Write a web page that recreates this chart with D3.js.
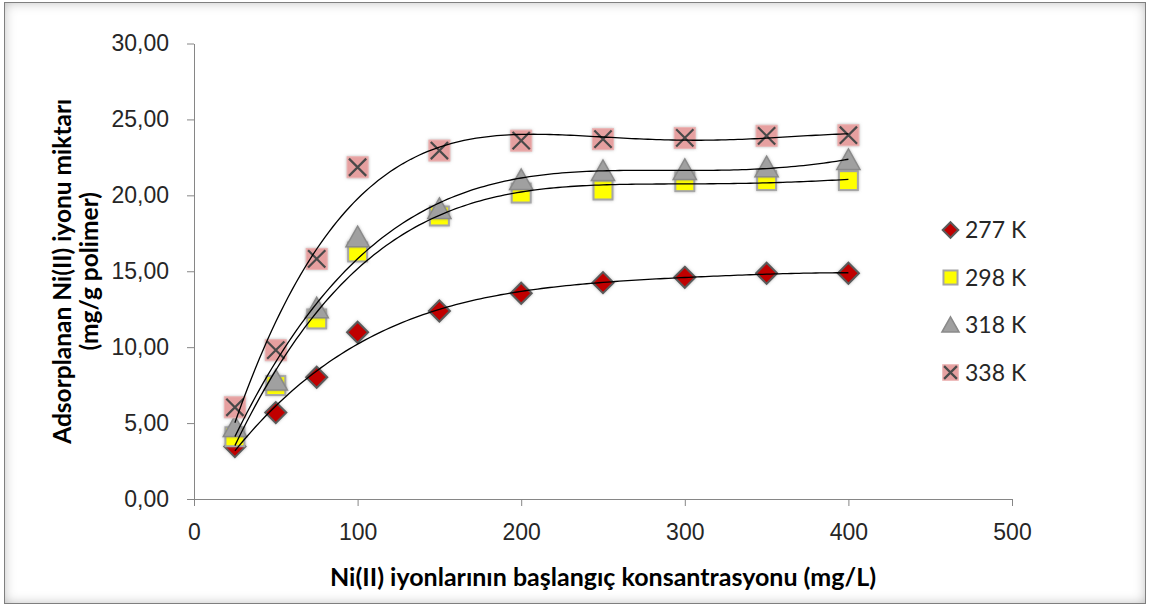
<!DOCTYPE html>
<html>
<head>
<meta charset="utf-8">
<script src="https://cdn.jsdelivr.net/npm/d3@7"></script>
<style>
  body { margin: 0; background: #fff; }
  svg { display: block; font-family: Lato, "Open Sans", sans-serif; }
</style>
</head>
<body>
<svg id="chart" width="1150" height="608"></svg>
<script>
// veriler
const concentrations = [25, 50, 75, 100, 150, 200, 250, 300, 350, 400];
const q277 = [3.45, 5.69, 8.02, 10.98, 12.38, 13.55, 14.25, 14.60, 14.87, 14.87];
const q298 = [4.10, 7.47, 11.86, 16.27, 18.64, 20.15, 20.35, 20.90, 20.97, 20.97];
const q318 = [4.74, 7.80, 12.56, 17.24, 19.10, 21.00, 21.60, 21.67, 21.85, 22.33];
const q338 = [6.04, 9.80, 15.81, 21.85, 22.95, 23.60, 23.70, 23.78, 23.92, 23.96];
const seriesNames = ['277 K', '298 K', '318 K', '338 K'];
const xTicks = [0, 100, 200, 300, 400, 500];
const yTicks = [0, 5, 10, 15, 20, 25, 30];

const trendOrder = 4; // polinom egilim cizgisi derecesi

const svg = d3.select('#chart');
const x = d3.scaleLinear().domain([0, 500]).range([194, 1012]);
const y = d3.scaleLinear().domain([0, 30]).range([499, 43.5]);

const defs = svg.append('defs');

// cerceve ic golgesi
const inner = defs.append('filter').attr('id', 'inner')
    .attr('x', '-3%').attr('y', '-5%').attr('width', '106%').attr('height', '110%');
inner.append('feFlood').attr('flood-color', '#000').attr('flood-opacity', 0.55).attr('result', 'f');
inner.append('feComposite').attr('in', 'f').attr('in2', 'SourceAlpha').attr('operator', 'out').attr('result', 'o');
inner.append('feGaussianBlur').attr('in', 'o').attr('stdDeviation', 6).attr('result', 'b');
inner.append('feComposite').attr('in', 'b').attr('in2', 'SourceAlpha').attr('operator', 'in').attr('result', 's');
const im = inner.append('feMerge');
im.append('feMergeNode').attr('in', 'SourceGraphic');
im.append('feMergeNode').attr('in', 's');

// isaretci halesi
const glow = defs.append('filter').attr('id', 'glow')
    .attr('x', '-50%').attr('y', '-50%').attr('width', '200%').attr('height', '200%');
glow.append('feGaussianBlur').attr('in', 'SourceAlpha').attr('stdDeviation', 1.4).attr('result', 'b');
glow.append('feFlood').attr('flood-color', '#808080').attr('flood-opacity', 0.55).attr('result', 'c');
glow.append('feComposite').attr('in', 'c').attr('in2', 'b').attr('operator', 'in').attr('result', 'g');
const gm = glow.append('feMerge');
gm.append('feMergeNode').attr('in', 'g');
gm.append('feMergeNode').attr('in', 'SourceGraphic');

svg.append('rect')
    .attr('x', 4.5).attr('y', 2.5).attr('width', 1141).attr('height', 601)
    .attr('fill', '#fff').attr('filter', 'url(#inner)');
svg.append('rect')
    .attr('x', 4.5).attr('y', 2.5).attr('width', 1141).attr('height', 601)
    .attr('fill', 'none').attr('stroke', '#7f7f7f').attr('stroke-width', 1);

const fmt = d3.formatLocale({ decimal: ',', thousands: '.', grouping: [3], currency: ['', ''] }).format('.2f');

// eksenler
const yAxis = svg.append('g')
    .attr('transform', 'translate(' + x(0) + ',0)')
    .call(d3.axisLeft(y).tickValues(yTicks).tickSize(7).tickSizeOuter(0).tickPadding(18).tickFormat(fmt));
const xAxis = svg.append('g')
    .attr('transform', 'translate(0,' + y(0) + ')')
    .call(d3.axisBottom(x).tickValues(xTicks).tickSize(7).tickSizeOuter(0).tickPadding(18));
[xAxis, yAxis].forEach(a => {
    a.selectAll('path, line').attr('stroke', '#868686');
    a.selectAll('text').attr('fill', '#262626').style('font-size', '23px');
});

// eksen basliklari
svg.append('text')
    .attr('x', (x(0) + x(500)) / 2).attr('y', 586)
    .attr('text-anchor', 'middle')
    .style('font-size', '25px').style('font-weight', 'bold')
    .text('Ni(II) iyonlarının başlangıç konsantrasyonu (mg/L)');
const yt = svg.append('text')
    .attr('transform', 'translate(71,' + (y(0) + y(30)) / 2 + ') rotate(-90)')
    .attr('text-anchor', 'middle')
    .style('font-size', '24.5px').style('font-weight', 'bold');
yt.append('tspan').attr('x', 0).attr('y', 0).text('Adsorplanan Ni(II) iyonu miktarı');
yt.append('tspan').attr('x', 0).attr('y', 26.5).text('(mg/g polimer)');

// en kucuk kareler polinom uyumu (Excel egilim cizgisi gibi)
function polyfit(xs, ys, order) {
    const n = order + 1;
    const A = Array.from({ length: n }, () => new Array(n + 1).fill(0));
    xs.forEach((xv, i) => {
        const t = xv / 100;
        for (let r = 0; r < n; r++) {
            for (let c = 0; c < n; c++) A[r][c] += Math.pow(t, r + c);
            A[r][n] += ys[i] * Math.pow(t, r);
        }
    });
    for (let k = 0; k < n; k++) {
        let p = k;
        for (let r = k + 1; r < n; r++) if (Math.abs(A[r][k]) > Math.abs(A[p][k])) p = r;
        [A[k], A[p]] = [A[p], A[k]];
        for (let r = k + 1; r < n; r++) {
            const f = A[r][k] / A[k][k];
            for (let c = k; c <= n; c++) A[r][c] -= f * A[k][c];
        }
    }
    const coef = new Array(n).fill(0);
    for (let r = n - 1; r >= 0; r--) {
        let s = A[r][n];
        for (let c = r + 1; c < n; c++) s -= A[r][c] * coef[c];
        coef[r] = s / A[r][r];
    }
    return xv => coef.reduce((s, c, k) => s + c * Math.pow(xv / 100, k), 0);
}

const diamond = s => 'M0,' + (-s) + 'L' + s + ',0L0,' + s + 'L' + (-s) + ',0Z';
const tri = s => 'M0,' + (-s * 1.05) + 'L' + (s * 1.1) + ',' + (s * 0.9) + 'L' + (-s * 1.1) + ',' + (s * 0.9) + 'Z';

function drawMarker(g, type, s) {
    if (type === 0) {
        g.append('path').attr('d', diamond(s))
            .attr('fill', '#c00000').attr('stroke', '#5a5a5a').attr('stroke-width', 2);
    } else if (type === 1) {
        g.append('rect').attr('x', -s * 0.9).attr('y', -s * 0.9).attr('width', s * 1.8).attr('height', s * 1.8)
            .attr('fill', '#ffff00').attr('stroke', '#a6a6a6').attr('stroke-width', 2);
    } else if (type === 2) {
        g.append('path').attr('d', tri(s))
            .attr('fill', '#a0a0a0').attr('stroke', '#8a8a8a').attr('stroke-width', 1.5);
    } else {
        g.append('rect').attr('x', -s).attr('y', -s).attr('width', s * 2).attr('height', s * 2)
            .attr('fill', '#e6a0a0').attr('stroke', '#ebb5b5').attr('stroke-width', 1);
        g.append('path').attr('d', 'M' + (-s * 0.82) + ',' + (-s * 0.82) + 'L' + (s * 0.82) + ',' + (s * 0.82) +
            'M' + (s * 0.82) + ',' + (-s * 0.82) + 'L' + (-s * 0.82) + ',' + (s * 0.82))
            .attr('stroke', '#4a4a4a').attr('stroke-width', 2.2);
    }
}

const allSeries = [q277, q298, q318, q338];

// isaretciler
allSeries.forEach((vals, si) => {
    svg.append('g').attr('class', 'series')
        .selectAll('g')
        .data(vals)
        .enter()
        .append('g')
        .attr('transform', (d, i) => 'translate(' + x(concentrations[i]) + ',' + y(d) + ')')
        .attr('filter', 'url(#glow)')
        .each(function() { drawMarker(d3.select(this), si, 10.5); });
});

// egilim cizgileri
const curveX = d3.range(25, 400.01, 2.5);
allSeries.forEach(vals => {
    const f = polyfit(concentrations, vals, trendOrder);
    svg.append('path')
        .datum(curveX)
        .attr('fill', 'none').attr('stroke', '#000').attr('stroke-width', 1.3)
        .attr('d', d3.line().x(d => x(d)).y(d => y(f(d))));
});

// lejant
const legendY = [230, 277.5, 325, 372.5];
const legend = svg.append('g').attr('class', 'legend')
    .selectAll('g')
    .data(seriesNames)
    .enter()
    .append('g')
    .attr('transform', (d, i) => 'translate(950.5,' + legendY[i] + ')')
    .each(function(d, i) {
        const gg = d3.select(this);
        drawMarker(gg, i, 7.8);
        gg.append('text')
            .attr('x', 14.5).attr('dy', '0.36em')
            .attr('fill', '#262626')
            .style('font-size', '23px')
            .text(d);
    });
</script>
</body>
</html>
